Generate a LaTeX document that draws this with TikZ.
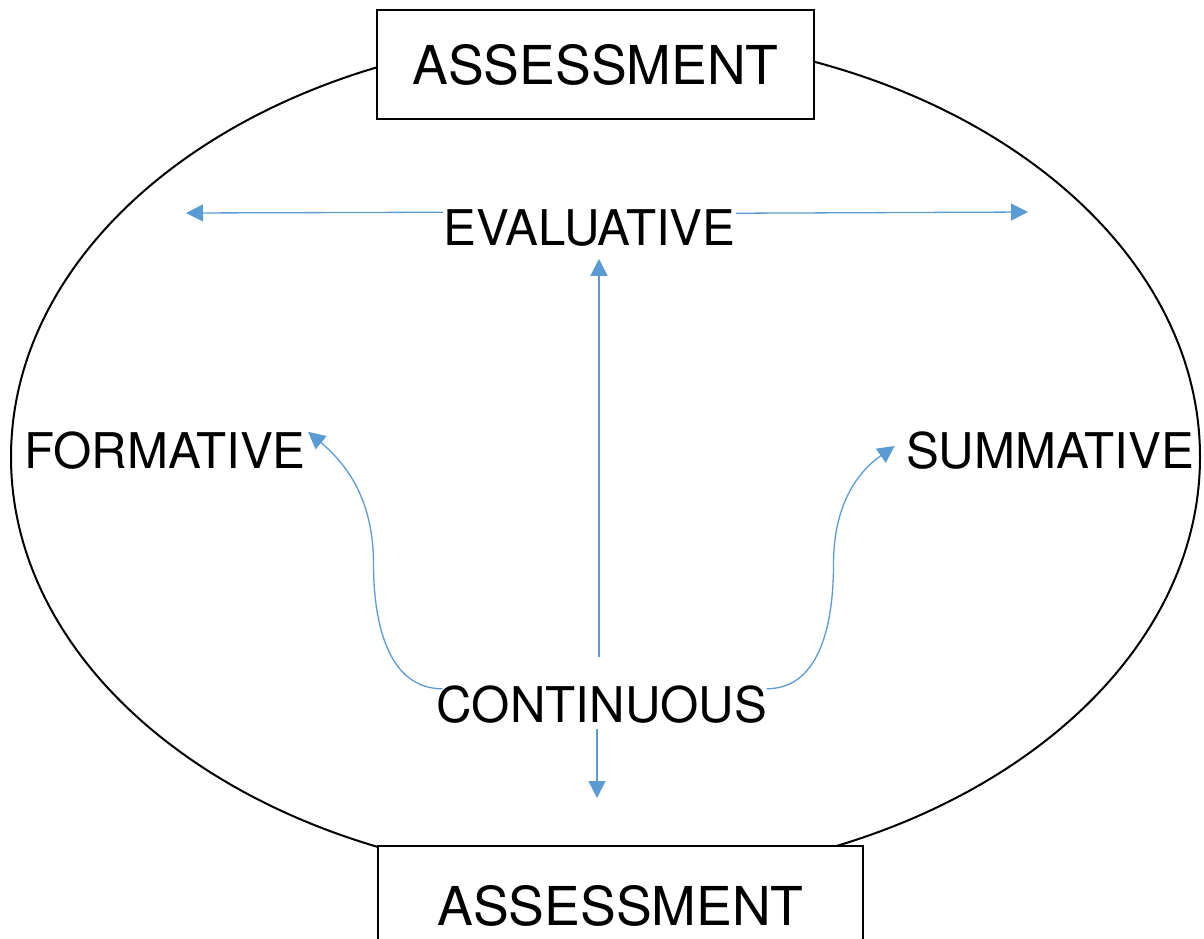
\documentclass[tikz,border=0pt]{standalone}
\usepackage{fontspec}
\setmainfont{TeX Gyre Heros}
\usetikzlibrary{arrows.meta}
\definecolor{linkblue}{HTML}{5B9BD5}
\begin{document}
\begin{tikzpicture}[x=0.5pt, y=-0.5pt,
    box node/.style={draw, line width=1pt, fill=white, font=\fontsize{26.8}{30}\selectfont},
    label node/.style={inner sep=0pt, font=\fontsize{24.6}{28}\selectfont},
    link/.style={color=linkblue, line width=0.65pt, -{Triangle[length=8.5pt,width=8.5pt]}}]
        \useasboundingbox (0,0) rectangle (1204,938);
        \clip (0,0) rectangle (1204,938);

          \draw[line width=1pt] (605.5,457) ellipse [x radius=297.25pt, y radius=211pt];

          \node[box node, minimum width=218.5pt, minimum height=54.5pt] (top) at (595.5,64.5) {ASSESSMENT};
          \node[box node, minimum width=242.5pt, minimum height=60pt] (bottom) at (620.5,906) {ASSESSMENT};

          \node[label node] (eval) at (589.5,228) {EVALUATIVE};
          \node[label node] (form) at (165,451) {FORMATIVE};
          \node[label node] (summ) at (1050,451) {SUMMATIVE};
          \node[label node] (cont) at (602,705) {CONTINUOUS};

          \coordinate (evalleft) at (186,213);
          \coordinate (evalright) at (1028,212);
          \coordinate (contdown) at (597,798);

          \path[every edge/.append style={link}]
            ([yshift=-1.5pt]eval.north west) edge (evalleft)
            ([yshift=-2pt]eval.north east) edge (evalright)
            ([xshift=-1.5pt,yshift=14.5pt]cont.north) edge ([xshift=4.75pt,yshift=-6pt]eval.south)
            ([xshift=-2.5pt,yshift=-2.5pt]cont.south) edge (contdown);

          \draw[link] ([xshift=3pt,yshift=-1.5pt]cont.north west) to[out=180,in=-90] ++(-69,-125)
            to[out=90,in=-40] ([xshift=1pt]form.north east);
          \draw[link] ([xshift=-0.5pt,yshift=-1.5pt]cont.north east) to[out=0,in=-90] ++(67,-125)
            to[out=90,in=215] ([xshift=-5.5pt,yshift=2.5pt]summ.west);

        \end{tikzpicture}
\end{document}
